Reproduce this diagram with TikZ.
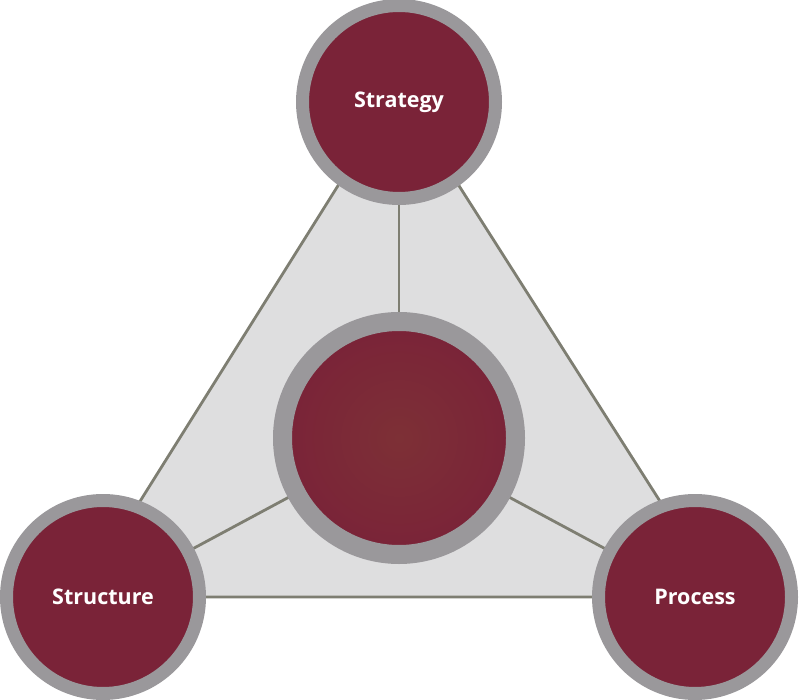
\documentclass[tikz,border=0pt]{standalone}
\usepackage{fontspec}
\setsansfont{Open Sans}
\usepackage{xcolor}
\usepackage{tikz}
\usetikzlibrary{backgrounds}
\definecolor{granate}{HTML}{7A2338}
\definecolor{granateclaro}{HTML}{7D3036}
\definecolor{anillo}{HTML}{9A989B}
\definecolor{fondo}{HTML}{DEDEDF}
\definecolor{linea}{HTML}{7E7E72}

\tikzset{
    circulo/.style={circle, draw=anillo, fill=granate, line width=13pt, minimum size=193pt, inner sep=0pt,
        text=white, font=\sffamily\bfseries\fontsize{21.5}{26}\selectfont},
    enlace/.style={color=linea, line width=2.8pt}
}

\begin{document}
\begin{tikzpicture}[x=1pt, y=-1pt]
        \useasboundingbox (0,0) rectangle (800,700);
        % Círculos exteriores
        \node[circulo] (estrategia) at (399,102) {Strategy};
        \node[circulo] (estructura) at (103,597) {Structure};
        \node[circulo] (proceso) at (695,597) {Process};
        % Círculo central
        \node[circulo, line width=19pt, minimum size=233pt, inner color=granateclaro, outer color=granate] (centro) at (399,438) {};
        % Vértices del triángulo
        \coordinate (vA) at (398,90);
        \coordinate (vB) at (80,597);
        \coordinate (vC) at (721,597);
        \begin{pgfonlayer}{background}
            % Triángulo de fondo
            \filldraw[enlace, fill=fondo, line join=round] (vA) -- (vB) -- (vC) -- cycle;
            % Líneas que unen el centro con cada círculo
            \draw[enlace] (centro.center) -- (estrategia.center);
            \draw[enlace] (centro.center) -- (estructura.center);
            \draw[enlace] (centro.center) -- (proceso.center);
        \end{pgfonlayer}
    \end{tikzpicture}
\end{document}
